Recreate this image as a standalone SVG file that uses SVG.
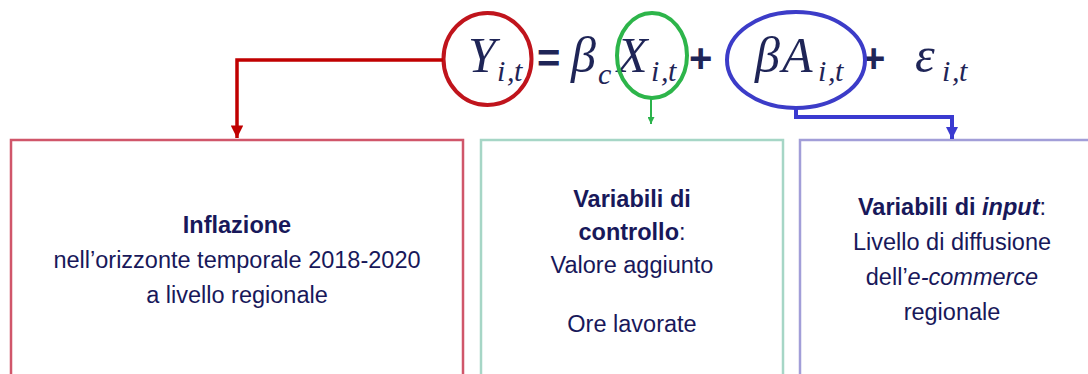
<svg xmlns="http://www.w3.org/2000/svg" width="1088" height="374" viewBox="0 0 1088 374">
<style>
.box{fill:#ffffff;stroke-width:2.5}
.t{font-family:"Liberation Sans",Arial,sans-serif;font-size:23.5px;fill:#18185a;text-anchor:middle}
.b{font-weight:bold}
.i{font-style:italic}
.m{font-family:"Liberation Serif","Times New Roman",serif;font-style:italic;fill:#1f2557}
.big{font-size:50px}
.sub{font-size:30px}
.op{font-family:"Liberation Sans",Arial,sans-serif;font-size:40px;fill:#1f2557;font-weight:bold}
.ell{fill:none;stroke-width:4}
</style>
<defs>
<marker id="ar" viewBox="0 0 10 10" refX="10" refY="5" markerWidth="3.6" markerHeight="3.6" orient="auto" markerUnits="strokeWidth"><path d="M0,0 L10,5 L0,10 z" fill="#c00000"/></marker>
<marker id="ag" viewBox="0 0 10 10" refX="10" refY="5" markerWidth="3.5" markerHeight="3.5" orient="auto" markerUnits="strokeWidth"><path d="M0,0 L10,5 L0,10 z" fill="#2bb34b"/></marker>
<marker id="ab" viewBox="0 0 10 10" refX="10" refY="5" markerWidth="3" markerHeight="3" orient="auto" markerUnits="strokeWidth"><path d="M0,0 L10,5 L0,10 z" fill="#3a3ad0"/></marker>
</defs>
<rect width="1088" height="374" fill="#ffffff"/>

<g id="equation">
<text class="m big" x="468" y="72">Y</text>
<text class="m sub" x="497" y="81">i<tspan x="507">,</tspan><tspan x="514">t</tspan></text>
<text class="op" x="537" y="72">=</text>
<text class="m big" x="571" y="72">β</text>
<text class="m sub" x="598" y="84">c</text>
<text class="m big" x="617" y="72">X</text>
<text class="m sub" x="651" y="81">i<tspan x="661">,</tspan><tspan x="668">t</tspan></text>
<text class="op" x="689" y="72">+</text>
<text class="m big" x="755" y="72">β</text>
<text class="m big" x="782" y="72">A</text>
<text class="m sub" x="818" y="81">i<tspan x="828">,</tspan><tspan x="835">t</tspan></text>
<text class="op" x="862" y="72">+</text>
<text class="m big" x="915" y="72">ε</text>
<text class="m sub" x="942" y="81">i<tspan x="952">,</tspan><tspan x="959">t</tspan></text>
</g>

<g id="highlights">
<ellipse class="ell" cx="487.5" cy="59" rx="44" ry="46" stroke="#c0141c"/>
<ellipse class="ell" cx="652" cy="55.5" rx="35" ry="42.5" stroke="#2db54a"/>
<ellipse class="ell" cx="796" cy="60" rx="69" ry="48" stroke="#3c3cc8"/>
</g>

<g id="node-inflazione">
<rect class="box" x="11" y="140" width="452" height="245" stroke="#d0566a"/>
<text class="t b" x="237" y="233">Inflazione</text>
<text class="t" x="237" y="268">nell’orizzonte temporale 2018-2020</text>
<text class="t" x="237" y="303">a livello regionale</text>
</g>

<g id="node-controllo">
<rect class="box" x="481" y="140" width="302" height="245" stroke="#a6d6c6"/>
<text class="t b" x="632" y="207">Variabili di</text>
<text class="t" x="632" y="240"><tspan class="b">controllo</tspan>:</text>
<text class="t" x="632" y="273">Valore aggiunto</text>
<text class="t" x="632" y="332">Ore lavorate</text>
</g>

<g id="node-input">
<rect class="box" x="800" y="140" width="310" height="245" stroke="#a29ed8"/>
<text class="t" x="952" y="215"><tspan class="b">Variabili di </tspan><tspan class="b i">input</tspan>:</text>
<text class="t" x="952" y="250">Livello di diffusione</text>
<text class="t" x="952" y="285">dell’<tspan class="i">e-commerce</tspan></text>
<text class="t" x="952" y="320">regionale</text>
</g>

<g id="connectors" fill="none">
<path d="M443,60 H237 V138" stroke="#c00000" stroke-width="3.5" marker-end="url(#ar)"/>
<path d="M651,98 V124" stroke="#2bb34b" stroke-width="2" marker-end="url(#ag)"/>
<path d="M796,108 V117 H952 V139" stroke="#3a3ad0" stroke-width="4" marker-end="url(#ab)"/>
</g>
</svg>
